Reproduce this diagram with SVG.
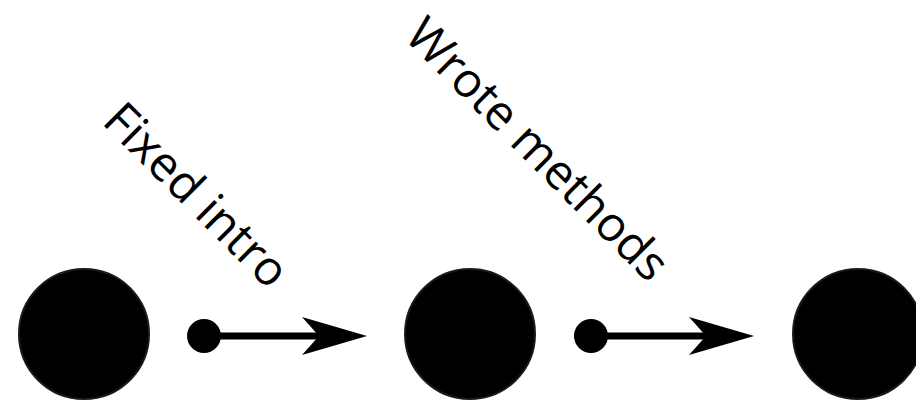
<svg xmlns="http://www.w3.org/2000/svg" width="916" height="405" viewBox="0 0 916 405">
  <style>
    .node { fill: #000; stroke: #1a1a1a; stroke-width: 2; }
    .edge { stroke: #000; stroke-width: 7; fill: none; marker-start: url(#dot); marker-end: url(#head); }
    .label { font-family: "Open Sans", "Noto Sans", "DejaVu Sans", sans-serif; font-size: 48px; fill: #000; text-anchor: end; }
  </style>
  <defs>
    <marker id="dot" markerUnits="userSpaceOnUse" markerWidth="36" markerHeight="36" refX="18" refY="18" orient="auto" overflow="visible">
      <circle cx="18" cy="18" r="17" fill="#000"/>
    </marker>
    <marker id="head" markerUnits="userSpaceOnUse" markerWidth="66" markerHeight="40" refX="17" refY="20" orient="auto" overflow="visible">
      <path d="M0,1 L65,20 L0,39 L17,20 Z" fill="#000"/>
    </marker>
  </defs>
  <g id="node1"><circle class="node" cx="84" cy="334" r="65"/></g>
  <g id="node2"><circle class="node" cx="470" cy="334" r="65"/></g>
  <g id="node3"><circle class="node" cx="858" cy="334" r="65"/></g>
  <g id="connectors">
    <path class="edge" d="M204,336 L319,336"/>
    <path class="edge" d="M591,336 L706,336"/>
    <text class="label" x="269" y="291" transform="rotate(45 269 291)">Fixed intro</text>
    <text class="label" x="649" y="284" transform="rotate(45 649 284)">Wrote methods</text>
  </g>
</svg>
